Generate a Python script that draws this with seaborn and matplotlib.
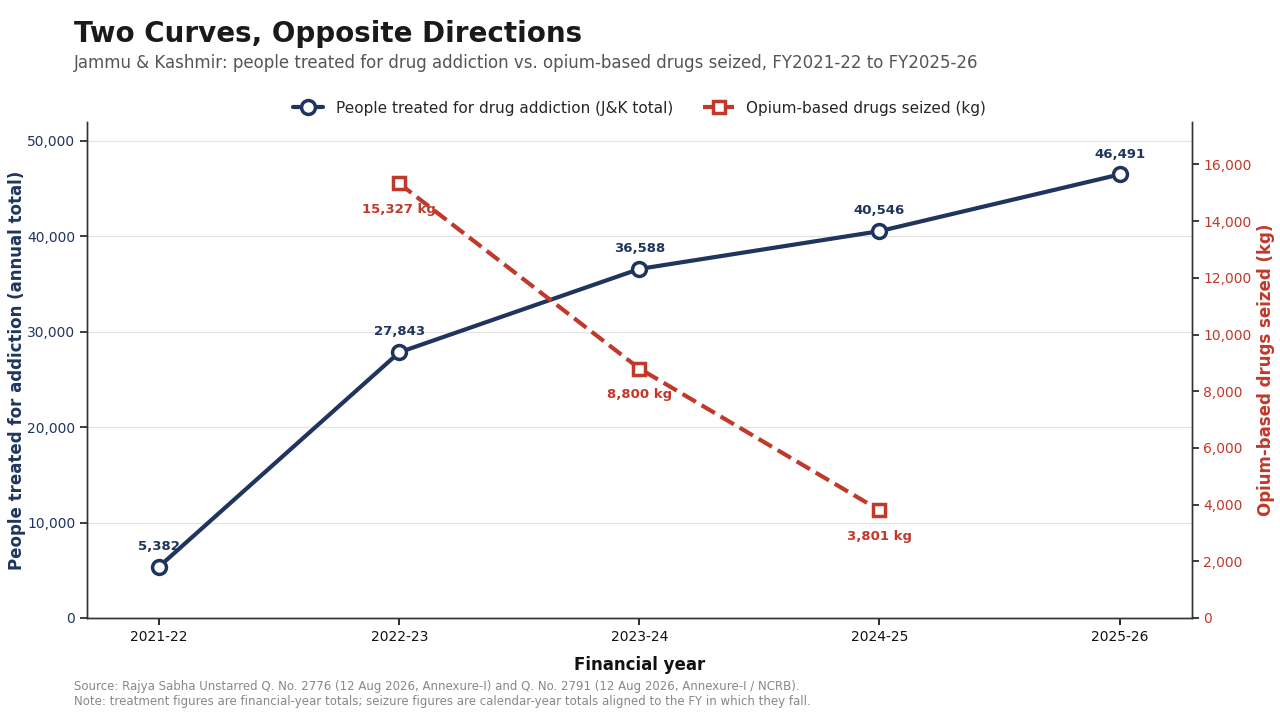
import matplotlib.pyplot as plt
import pandas as pd
import seaborn as sns
from matplotlib.ticker import FuncFormatter

# Data
years = ['2021-22', '2022-23', '2023-24', '2024-25', '2025-26']
treated = [5382, 27843, 36588, 40546, 46491]
seized_years = ['2022-23', '2023-24', '2024-25']
seized_kg = [15327, 8800, 3801]

navy = '#1f355e'
red = '#c0392b'

sns.set_theme(style='white')
plt.rcParams['font.family'] = ['DejaVu Sans']

df_t = pd.DataFrame({'x': range(len(years)), 'value': treated})
df_s = pd.DataFrame({'x': [years.index(y) for y in seized_years], 'value': seized_kg})

fig = plt.figure(figsize=(12.8, 7.2), dpi=100)
ax = fig.add_axes([0.068, 0.1417, 0.863, 0.689])
ax2 = ax.twinx()

sns.lineplot(data=df_t, x='x', y='value', ax=ax, color=navy, linewidth=3,
             marker='o', markersize=10, markerfacecolor='white',
             markeredgecolor=navy, markeredgewidth=2.5,
             label='People treated for drug addiction (J&K total)', legend=False)
sns.lineplot(data=df_s, x='x', y='value', ax=ax2, color=red, linewidth=3,
             linestyle='--', marker='s', markersize=9, markerfacecolor='white',
             markeredgecolor=red, markeredgewidth=2.5,
             label='Opium-based drugs seized (kg)', legend=False)

# Value labels
for x, v in zip(df_t['x'], df_t['value']):
    ax.annotate(f'{v:,}', (x, v), xytext=(0, 10), textcoords='offset points',
                ha='center', va='bottom', fontsize=9.5, fontweight='bold', color=navy)
for x, v in zip(df_s['x'], df_s['value']):
    ax2.annotate(f'{v:,} kg', (x, v), xytext=(0, -14), textcoords='offset points',
                 ha='center', va='top', fontsize=9.5, fontweight='bold', color=red)

ax.set_xlim(-0.3, 4.3)
ax.set_ylim(0, 52000)
ax2.set_ylim(0, 17500)
ax.set_xticks(range(len(years)))
ax.set_xticklabels(years)
ax.set_yticks(range(0, 50001, 10000))
ax2.set_yticks(range(0, 16001, 2000))
fmt = FuncFormatter(lambda v, p: f'{int(v):,}')
ax.yaxis.set_major_formatter(fmt)
ax2.yaxis.set_major_formatter(fmt)

ax.grid(axis='y', color='#e3e3e3', linewidth=0.9)
ax.set_axisbelow(True)
ax2.grid(False)

for a in (ax, ax2):
    a.spines['top'].set_visible(False)
    for s in ('left', 'right', 'bottom'):
        a.spines[s].set_color('#333333')
        a.spines[s].set_linewidth(1)

ax.tick_params(axis='x', bottom=True, length=5, labelsize=10, colors='#111111')
ax.tick_params(axis='y', left=True, length=5, labelsize=10, labelcolor=navy)
ax2.tick_params(axis='y', right=True, length=5, labelsize=10, labelcolor=red)

ax.set_xlabel('Financial year', fontsize=12, fontweight='bold', color='#111111', labelpad=9)
ax.set_ylabel('People treated for addiction (annual total)', fontsize=12,
              fontweight='bold', color=navy, labelpad=1)
ax2.set_ylabel('Opium-based drugs seized (kg)', fontsize=12, fontweight='bold', color=red)

h1, l1 = ax.get_legend_handles_labels()
h2, l2 = ax2.get_legend_handles_labels()
ax.legend(h1 + h2, l1 + l2, loc='lower center', bbox_to_anchor=(0.5, 0.985), ncol=2,
          frameon=False, fontsize=11, handlelength=2.0, columnspacing=2)

fig.text(0.058, 0.953, 'Two Curves, Opposite Directions', fontsize=20,
         fontweight='bold', color='#1a1a1a', va='center')
fig.text(0.058, 0.913, 'Jammu & Kashmir: people treated for drug addiction vs. opium-based drugs seized, FY2021-22 to FY2025-26',
         fontsize=12, color='#555555', va='center')
fig.text(0.058, 0.036, 'Source: Rajya Sabha Unstarred Q. No. 2776 (12 Aug 2026, Annexure-I) and Q. No. 2791 (12 Aug 2026, Annexure-I / NCRB).\n'
         'Note: treatment figures are financial-year totals; seizure figures are calendar-year totals aligned to the FY in which they fall.',
         fontsize=8.5, color='#888888', va='center', linespacing=1.15)

fig.savefig('out.png', dpi=100)
